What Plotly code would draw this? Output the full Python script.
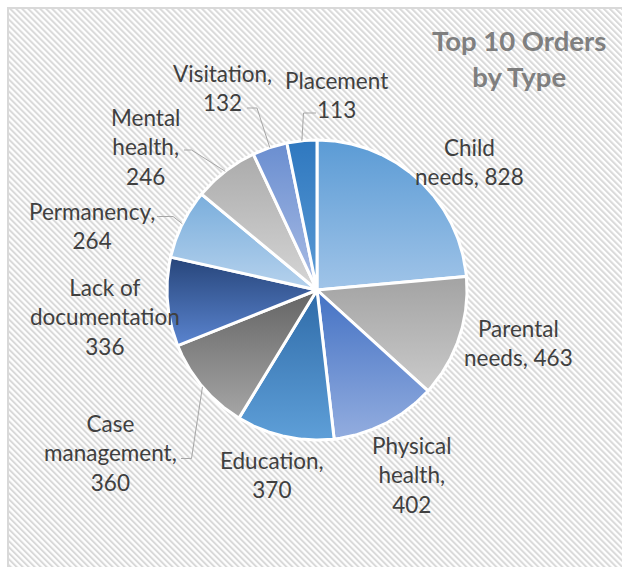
import base64
import numpy as np
import plotly.graph_objects as go

# Order counts by type, drawn clockwise from 12 o'clock
CATEGORIES = ["Child needs", "Parental needs", "Physical health", "Education",
              "Case management", "Lack of documentation", "Permanency",
              "Mental health", "Visitation", "Placement"]
VALUES = [828, 463, 402, 370, 360, 336, 264, 246, 132, 113]

# Label text per slice (line breaks as shown on the chart)
LABEL_TEXT = ["Child<br>needs, {v}", "Parental<br>needs, {v}", "Physical<br>health,<br>{v}",
              "Education,<br>{v}", "Case<br>management,<br>{v}", "Lack of<br>documentation<br>{v}",
              "Permanency,<br>{v}", "Mental<br>health,<br>{v}", "Visitation,<br>{v}", "Placement<br>{v}"]

# Vertical gradient colours of each slice (top -> bottom)
TOP_COLORS = ["#5b9bd5", "#a3a3a3", "#4472c4", "#2f6ba8", "#646464",
              "#27457a", "#7aaedc", "#ababab", "#6a8ed0", "#2f78bf"]
BOTTOM_COLORS = ["#a0c4e8", "#cacaca", "#93addf", "#5e9fd8", "#a6a6a6",
                 "#5a84cf", "#b6d2ed", "#d6d6d6", "#aabde5", "#5b9bd5"]

# Layout (pixel units)
W, H = 622, 567
CX, CY, R = 317, 290, 150
LABEL_POS = [(469, 162), (518, 343), (412, 475), (272, 475), (110, 453),
             (105, 317), (92, 226), (145, 147), (222, 88), (336, 95)]
# leader lines: slice index -> (elbow point, end point next to the label)
LEADERS = {4: [(191.5, 458.5), (181, 458.5)],
           6: [(173, 216.5), (157, 216.5)],
           7: [(191.5, 150), (184, 150)],
           8: [(257, 108), (247, 108)],
           9: [(303.5, 113), (316, 113)]}

total = float(sum(VALUES))
bounds = np.concatenate([[0.0], np.cumsum(VALUES) / total * 2 * np.pi])


def pt(theta, r=R):
    return CX + r * np.sin(theta), CY - r * np.cos(theta)


fig = go.Figure()

for i, (name, v) in enumerate(zip(CATEGORIES, VALUES)):
    a0, a1 = bounds[i], bounds[i + 1]
    th = np.linspace(a0, a1, max(8, int((a1 - a0) / 0.01)))
    ax, ay = pt(th)
    xs = np.concatenate([[CX], ax, [CX]])
    ys = np.concatenate([[CY], ay, [CY]])
    fig.add_trace(go.Scatter(
        x=xs, y=ys, mode="lines", fill="toself",
        line=dict(color="white", width=3),
        fillgradient=dict(type="vertical",
                          colorscale=[[0, TOP_COLORS[i]], [1, BOTTOM_COLORS[i]]],
                          start=float(ys.min()), stop=float(ys.max())),
        name=name, hoverinfo="text", text=f"{name}: {v}", showlegend=False,
    ))

# leader lines from slice edge to label
for i, pts in LEADERS.items():
    mid = (bounds[i] + bounds[i + 1]) / 2
    ex, ey = pt(mid)
    lx = [ex] + [p[0] for p in pts]
    ly = [ey] + [p[1] for p in pts]
    fig.add_trace(go.Scatter(x=lx, y=ly, mode="lines",
                             line=dict(color="#a6a6a6", width=1),
                             hoverinfo="skip", showlegend=False))

annotations = []
for i, v in enumerate(VALUES):
    x, y = LABEL_POS[i]
    annotations.append(dict(
        x=x, y=y, xref="x", yref="y", text=LABEL_TEXT[i].format(v=v),
        showarrow=False, xanchor="center", yanchor="middle",
        font=dict(family="Lato", size=22.5, color="#404040"),
    ))
annotations.append(dict(
    x=519, y=58.5, xref="x", yref="y", text="<b>Top 10 Orders<br>by Type</b>",
    showarrow=False, xanchor="center", yanchor="middle",
    font=dict(family="Lato", size=27.5, color="#7f7f7f"),
))

# striped chart-area background with a light frame
svg = f"""<svg xmlns='http://www.w3.org/2000/svg' width='{W}' height='{H}'>
<defs><pattern id='s' width='4.24' height='4.24' patternUnits='userSpaceOnUse'
 patternTransform='rotate(-45)'><rect width='2' height='4.24' fill='#d9d9d9'/></pattern></defs>
<rect width='{W}' height='{H}' fill='white'/>
<rect x='8' y='8' width='{W + 40}' height='{H + 40}' fill='url(#s)' stroke='#d9d9d9' stroke-width='2'/>
</svg>"""
bg = "data:image/svg+xml;base64," + base64.b64encode(svg.encode()).decode()

fig.update_layout(
    width=W, height=H,
    margin=dict(l=0, r=0, t=0, b=0, pad=0),
    paper_bgcolor="white", plot_bgcolor="rgba(0,0,0,0)",
    xaxis=dict(range=[0, W], visible=False, fixedrange=True),
    yaxis=dict(range=[H, 0], visible=False, fixedrange=True),
    annotations=annotations,
    images=[dict(source=bg, xref="paper", yref="paper", x=0, y=1,
                 sizex=1, sizey=1, sizing="stretch", layer="below",
                 xanchor="left", yanchor="top")],
)

fig.write_html("out.html")
